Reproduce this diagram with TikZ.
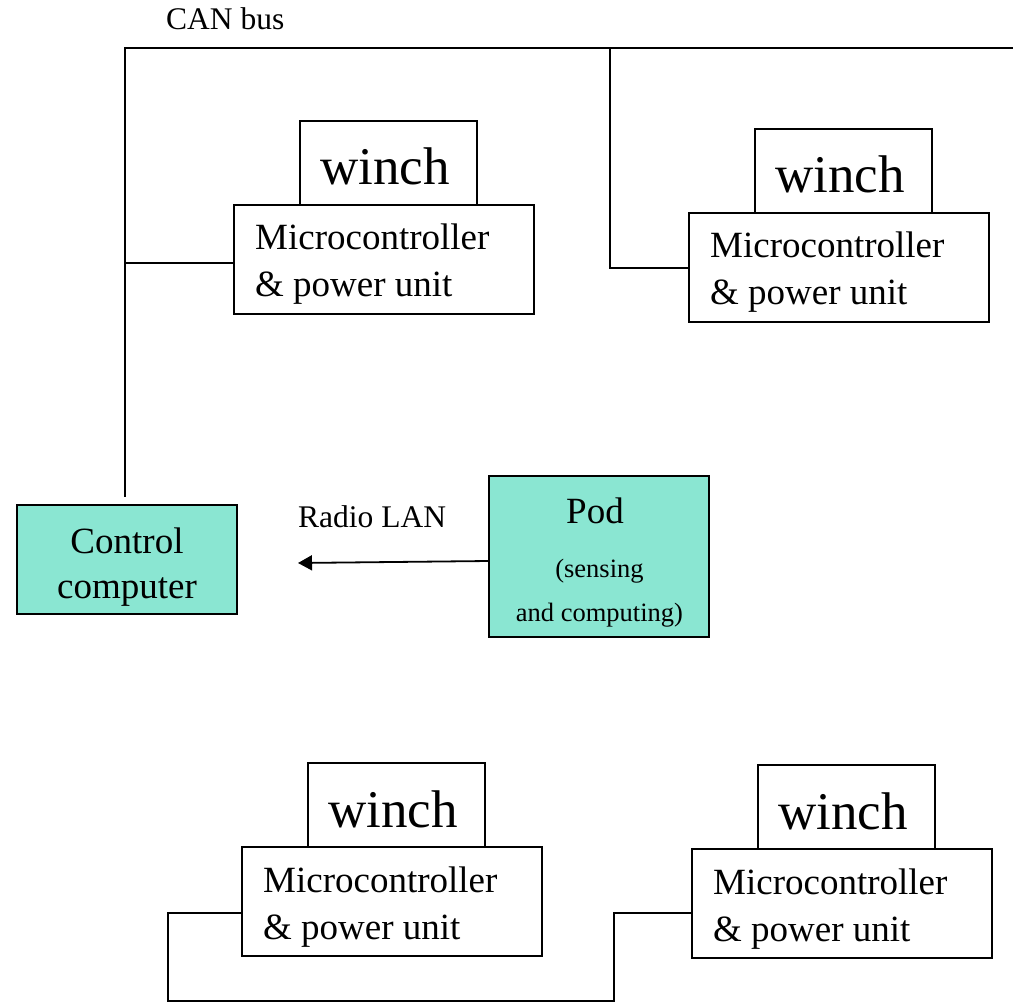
\documentclass[tikz,border=0pt]{standalone}
\usepackage{fontspec}
\setmainfont{Liberation Serif}
\usetikzlibrary{arrows.meta}
\definecolor{nodefill}{RGB}{138,230,210}

\tikzset{
  wire/.style={line width=1.8pt, draw=black},
  mcbox/.style={draw, line width=1.8pt, minimum width=300pt, minimum height=109pt, inner sep=0pt, outer sep=0pt},
  winchbox/.style={draw, line width=1.8pt, minimum width=177pt, minimum height=84pt, inner sep=0pt, outer sep=0pt},
  greenbox/.style={draw, line width=1.8pt, fill=nodefill, inner sep=0pt, outer sep=0pt},
  wtext/.style={font=\fontsize{53}{53}\selectfont, inner sep=0pt},
  mtext/.style={font=\fontsize{37}{37}\selectfont, inner sep=0pt},
  stext/.style={font=\fontsize{26.5}{26.5}\selectfont, inner sep=0pt},
  ltext/.style={font=\fontsize{31.5}{31.5}\selectfont, inner sep=0pt},
}

% one winch sitting on its microcontroller & power unit
% #1 name prefix, #2 left edge, #3 top edge of the lower box
\newcommand\winchunit[3]{%
  \node[mcbox, anchor=north west] (#1mc) at (#2,#3) {};
  \node[winchbox, anchor=south west] (#1w) at ({#2+66},#3) {};
  \node[wtext, anchor=base] (#1wt) at ({#2+151},{#3-20}) {winch};
  \node[mtext, anchor=base west] (#1m1) at ({#2+21},{#3+45}) {Microcontroller};
  \node[mtext, anchor=base west] (#1m2) at ({#2+21},{#3+92}) {\& power unit};
}

\begin{document}
\begin{tikzpicture}[x=1pt, y=-1pt]
  \useasboundingbox (0,0) rectangle (1013,1003);

  % winch units
  \winchunit{u1}{234}{205}
  \winchunit{u2}{689}{213}
  \winchunit{u3}{242}{847}
  \winchunit{u4}{692}{849}

  % control computer and pod
  \node[greenbox, minimum width=220pt, minimum height=109pt] (cc) at (127,559.5) {};
  \node[mtext, anchor=base] (cct1) at (127,553) {Control};
  \node[mtext, anchor=base] (cct2) at (127,598) {computer};

  \node[greenbox, minimum width=220pt, minimum height=161pt] (pod) at (599,556.5) {};
  \node[mtext, anchor=base] (podt1) at (595,523) {Pod};
  \node[stext, anchor=base] (podt2) at (599.5,577) {(sensing};
  \node[stext, anchor=base] (podt3) at (599.5,621) {and computing)};

  % labels
  \node[ltext, anchor=base west] (canlbl) at (166,30) {CAN bus};
  \node[ltext, anchor=base west] (radiolbl) at (298,527) {Radio LAN};

  % CAN bus
  \coordinate (busR) at (1013,48);
  \coordinate (busL) at (125,48);
  \coordinate (ccTop) at (125,497);
  \coordinate (tap1) at (125,263);
  \coordinate (tap2) at (610,48);
  \coordinate (j2) at (610,268);
  \draw[wire] (busR) -- (busL) -- (ccTop);
  \draw[wire] (tap1) -- (tap1 -| u1mc.west);
  \draw[wire] (tap2) -- (j2) -- (j2 -| u2mc.west);

  % lower branches
  \coordinate (j3) at (168,913);
  \coordinate (b3) at (168,1001);
  \coordinate (b3r) at (615,1001);
  \coordinate (j4) at (614,913);
  \coordinate (b4) at (614,1000);
  \draw[wire] (j3 -| u3mc.west) -- (j3) -- (b3) -- (b3r);
  \draw[wire] (j4 -| u4mc.west) -- (j4) -- (b4);

  % radio link
  \coordinate (podOut) at (489,561);
  \coordinate (rlEnd) at (298,563);
  \draw[wire, -{Triangle[length=14pt, width=15pt]}] (podOut) -- (rlEnd);
\end{tikzpicture}
\end{document}
